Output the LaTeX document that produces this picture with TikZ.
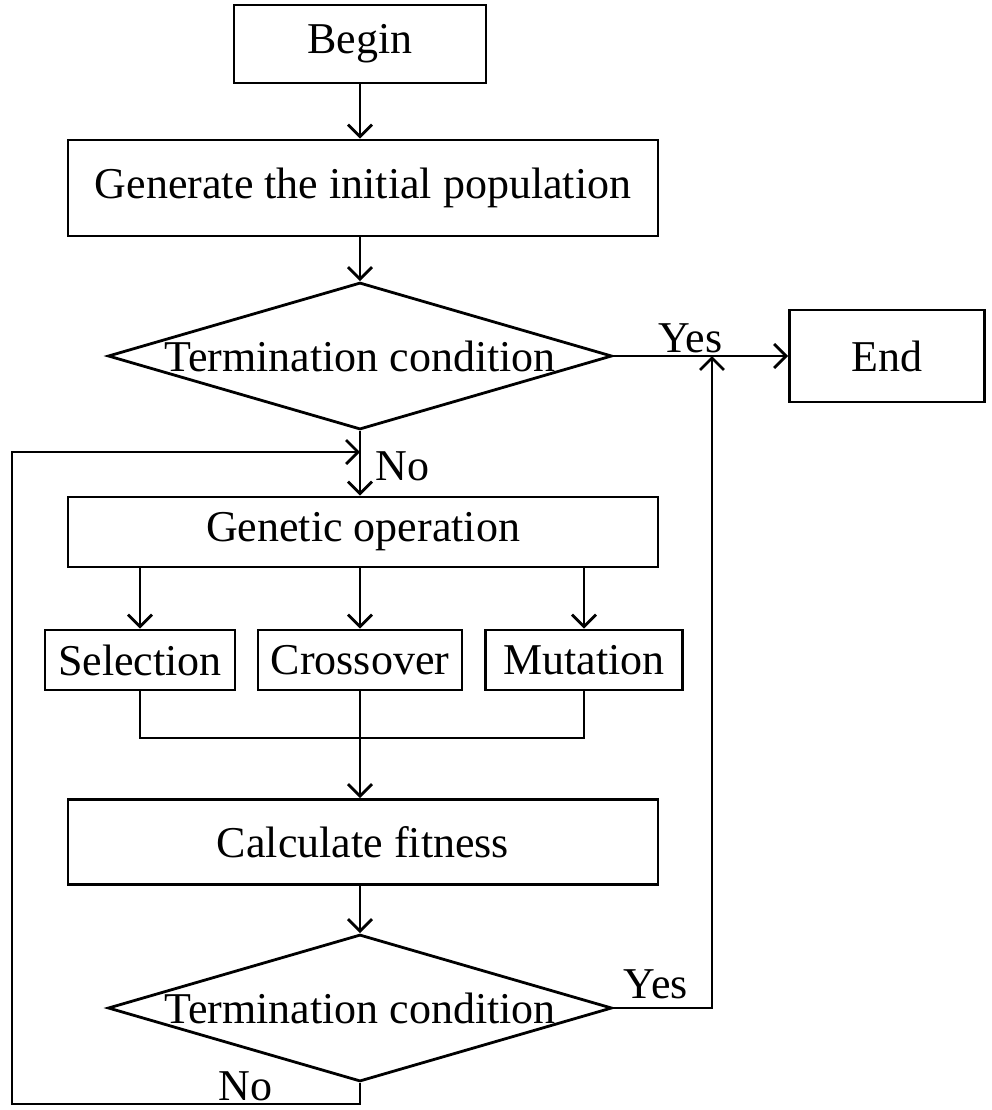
\documentclass[tikz,border=0pt]{standalone}
\usepackage{fontspec}
\setmainfont{Liberation Serif}
\usetikzlibrary{shapes.geometric,arrows.meta}
\begin{document}
\begin{tikzpicture}[x=0.5pt,y=-0.5pt,line width=1.4pt,
  font=\fontsize{22}{26}\selectfont,
  >={Straight Barb[length=6pt,width=12pt]},
  box/.style={draw, rectangle, inner sep=0pt},
  decision/.style={draw, diamond, inner sep=0pt, minimum width=252pt, minimum height=73.5pt}]
\useasboundingbox (0,0) rectangle (992,1110);
% Boxes
\node[box, minimum width=126pt, minimum height=39pt] (begin) at (360,44) {Begin};
\node[box, minimum width=295pt, minimum height=48pt] (gen) at (363,188) {Generate the initial population};
\node[decision, label={center:Termination condition}] (cond1) at (360,356) {};
\node[box, minimum width=97.5pt, minimum height=46pt] (end) at (887,356) {End};
\node[box, minimum width=295pt, minimum height=35pt] (genop) at (363,532) {Genetic operation};
\node[box, minimum width=95pt, minimum height=30pt] (sel) at (140,660) {Selection};
\node[box, minimum width=102pt, minimum height=30pt] (cross) at (360,660) {Crossover};
\node[box, minimum width=98.5pt, minimum height=30pt] (mut) at (584,660) {Mutation};
\node[box, minimum width=295pt, minimum height=42.5pt] (calc) at (363,842) {Calculate fitness};
\node[decision, label={center:Termination condition}] (cond2) at (360,1008) {};
% Joints
\coordinate (merge) at (360,738);
\coordinate (yesjoin) at (712,356);
\coordinate (loopin) at (360,452);
% Main flow
\draw[->] (begin.south) -- (begin.south |- gen.north);
\draw[->] (gen.south -| cond1.north) -- (cond1.north);
\draw[->] (cond1.east) -- node[above, pos=0.44, inner sep=1pt] {Yes} (end.west);
\draw[->] (cond1.south) -- node[right, pos=0.55, inner sep=7pt] {No} (cond1.south |- genop.north);
\draw[->] (genop.south -| sel.north) -- (sel.north);
\draw[->] (genop.south -| cross.north) -- (cross.north);
\draw[->] (genop.south -| mut.north) -- (mut.north);
\draw (sel.south) |- (merge) -| (mut.south);
\draw[->] (cross.south) -- (cross.south |- calc.north);
\draw[->] (calc.south -| cond2.north) -- (cond2.north);
% Feedback
\draw[->] (cond2.east) -| node[above, pos=0.215, inner sep=4pt] {Yes} (yesjoin);
\draw[->] (cond2.south) -- ++(0,21) -| node[above, pos=0.165, inner sep=1pt] {No} (12,452) -- (loopin);
\end{tikzpicture}
\end{document}
